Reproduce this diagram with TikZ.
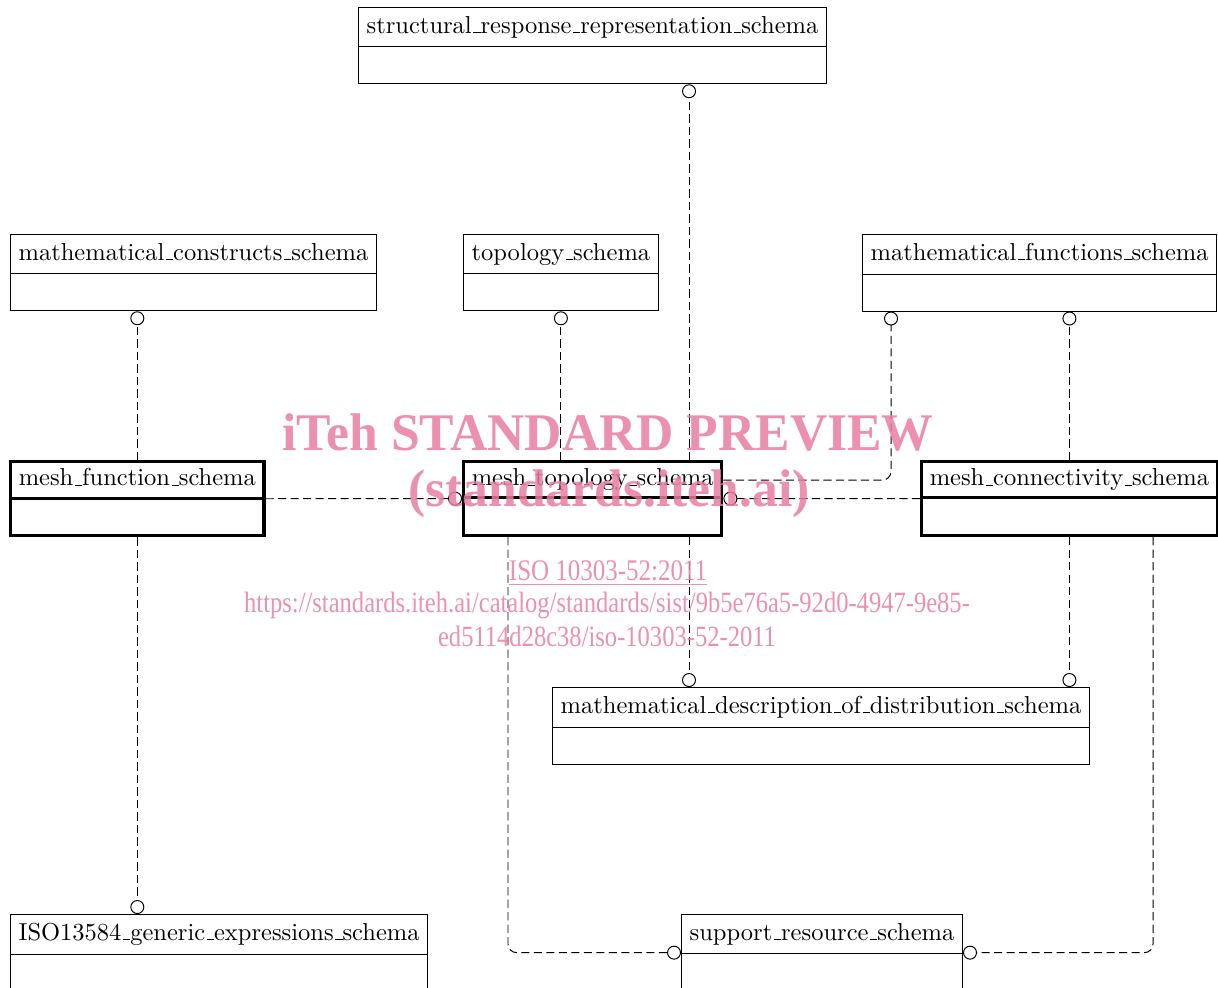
\documentclass[tikz,border=0pt]{standalone}
\usepackage{fontspec}
\usepackage{xcolor}
\usepackage{tikz}
\usetikzlibrary{
  arrows.meta,
  positioning,
  calc,
  shapes.multipart
}
\newfontfamily\wmfont{Liberation Serif}[FakeStretch=0.835]
\newfontfamily\wmbold{Liberation Serif}[FakeStretch=0.975]
\definecolor{wmpink}{RGB}{232,125,160}
\newcommand\us{\leavevmode\kern.06em\vbox{\hrule width.3em}}

\begin{document}
\begin{tikzpicture}[
  x=0.408pt, y=-0.408pt,
  schema/.style={rectangle split, rectangle split parts=2, draw,
                 anchor=north west, line width=0.4pt,
                 rectangle split empty part height=8pt,
                 rectangle split empty part depth=0pt,
                 execute at begin node=\vphantom{Ty}},
  mainschema/.style={schema, line width=1.3pt, inner ysep=2.25pt,
                     rectangle split empty part height=9.6pt},
  dep/.style={dash pattern=on 3.3pt off 1.8pt, line width=0.4pt,
              -{Circle[open,length=5.7pt,width=5.7pt]}},
  wm/.style={text=wmpink, text opacity=0.85},
]
\useasboundingbox (0,0) rectangle (1218,987);

\node[schema](srr) at (358,7) {structural\us response\us representation\us schema};
\node[schema](mcs) at (10,234) {mathematical\us constructs\us schema};
\node[schema](topo) at (463,234) {topology\us schema};
\node[schema](mfs) at (862,234) {mathematical\us functions\us schema};
\node[mainschema](mfn) at (9,460) {mesh\us function\us schema};
\node[mainschema](mts) at (462,460) {mesh\us topology\us schema};
\node[mainschema](mcn) at (920,460) {mesh\us connectivity\us schema};
\node[schema](mdd) at (552,687) {mathematical\us description\us of\us distribution\us schema};
\node[schema](iso) at (10,914) {ISO13584\us generic\us expressions\us schema};
\node[schema](srs) at (681,914) {support\us resource\us schema};

% mesh_function_schema
\draw[dep](mfn.north)--(mfn.north |- mcs.south);
\draw[dep](mfn.south)--(mfn.south |- iso.north);
\draw[dep](mfn.east)--(mts.west);
% mesh_topology_schema
\draw[dep](topo.south |- mts.north)--(topo.south);
\draw[dep](mts.north -| 689,0)--(srr.south -| 689,0);
\draw[dep](mts.south -| 689,0)--(mdd.north -| 689,0);
\draw[dep, rounded corners=3.5pt]($(mts.north east)!.26!(mts.south east)$)
  -|(mfs.south -| 891,0);
\draw[dep, rounded corners=3.5pt](mts.south -| 508,0)|-(srs.west);
% mesh_connectivity_schema
\draw[dep](mcn.west)--(mts.east);
\draw[dep](mcn.north)--(mcn.north |- mfs.south);
\draw[dep](mcn.south)--(mcn.south |- mdd.north);
\draw[dep, rounded corners=3.5pt](mcn.south -| 1153,0)|-(srs.east);

% watermark
\node[wm, font=\wmbold\bfseries\fontsize{21.6}{26}\selectfont](wm1) at (608,433)
  {iTeh STANDARD PREVIEW};
\node[wm, font=\wmbold\bfseries\fontsize{21.6}{26}\selectfont](wm2) at (609,494)
  {(standards.iteh.ai)};
\node[wm, font=\wmfont\fontsize{12.2}{13}\selectfont](wm3) at (608,573)
  {\underline{ISO 10303-52:2011}};
\node[wm, font=\wmfont\fontsize{12}{13}\selectfont](wm4) at (607,605)
  {https://standards.iteh.ai/catalog/standards/sist/9b5e76a5-92d0-4947-9e85-};
\node[wm, font=\wmfont\fontsize{12}{13}\selectfont](wm5) at (607,636)
  {ed5114d28c38/iso-10303-52-2011};
\end{tikzpicture}
\end{document}
